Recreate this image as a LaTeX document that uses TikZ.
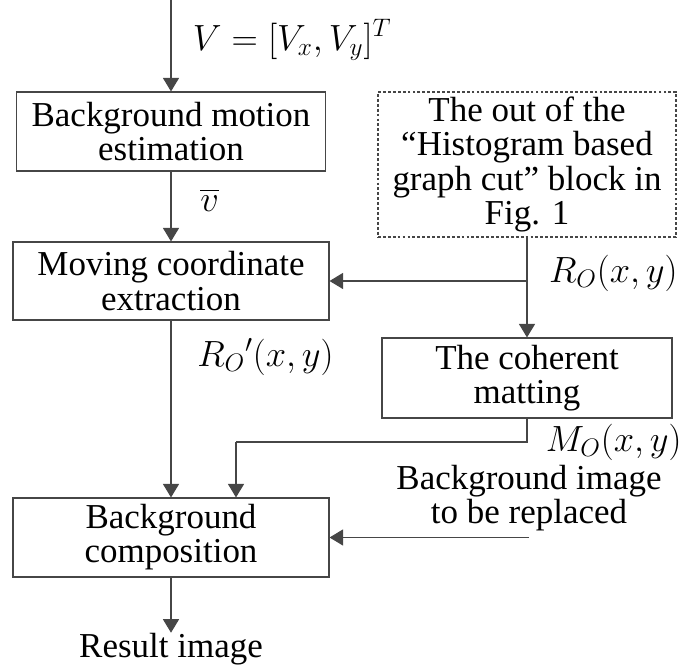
\documentclass[tikz,border=0pt]{standalone}
\usepackage{fontspec}
\setmainfont{Liberation Serif}
\usepackage{amsmath}
\usetikzlibrary{arrows.meta, positioning}
\definecolor{trait}{RGB}{70,70,70}

\begin{document}
\begin{tikzpicture}[
	box/.style={draw=trait, line width=0.6pt, fill=white,
		align=center, inner sep=0pt,
		font=\fontsize{19.9}{19.4}\selectfont},
	pointille/.style={box, dash pattern=on 1.6pt off 1.2pt},
	lbl/.style={inner sep=0pt, font=\fontsize{19.9}{19.4}\selectfont, align=center},
	fl/.style={draw=trait, line width=0.6pt,
		-{Triangle[width=0.32cm, length=0.27cm]}},
	ln/.style={draw=trait, line width=0.6pt}
	]
	\useasboundingbox (0,0) rectangle (13.68,-13.32);
	\coordinate (in) at (3.42,0);
	\node[box, minimum width=6.18cm, minimum height=1.58cm] (est)  at (3.42,-2.63)  {Background motion\\estimation};
	\node[box, minimum width=6.32cm, minimum height=1.56cm] (move) at (3.42,-5.62)  {Moving coordinate\\extraction};
	\node[pointille, minimum width=5.96cm, minimum height=2.90cm] (hist) at (10.54,-3.29) {The out of the\\“Histogram based\\graph cut” block in\\Fig. 1};
	\node[box, minimum width=5.80cm, minimum height=1.60cm] (matt) at (10.54,-7.56) {The coherent\\matting};
	\node[box, minimum width=6.32cm, minimum height=1.58cm] (comp) at (3.42,-10.75) {Background\\composition};
	\node[lbl] (bgimg) at (10.58,-9.97) {Background image\\to be replaced};
	\node[lbl] (res) at (3.42,-12.98) {Result image};
	\coordinate (bend) at (4.72,-8.84);

	% labels
	\node[lbl, anchor=west] (lv)  at (3.85,-0.80) {$V=[V_x, V_y]^T$};
	\node[lbl, anchor=west] (lvb) at (4.00,-4.00) {$\overline{v}$};
	\node[lbl, anchor=west] (lrp) at (3.94,-7.14) {$R_O{}'(x,y)$};
	\node[lbl, anchor=east] (lr)  at (13.56,-5.46) {$R_O(x,y)$};
	\node[lbl, anchor=east] (lm)  at (13.64,-8.84) {$M_O(x,y)$};

	\draw[fl] (in) -- (est);
	\draw[fl] (est) -- (move);
	\draw[fl] (move) -- (comp);
	\draw[fl] (comp) -- (res.north);
	\draw[fl] (hist) -- (matt);
	\draw[fl] (hist.south |- move.east) -- (move);
	\draw[ln] (matt) |- (bend);
	\draw[fl] (bend) -- (bend |- comp.north);
	\draw[fl] (bgimg.south |- comp.east) -- (comp);
\end{tikzpicture}
\end{document}
